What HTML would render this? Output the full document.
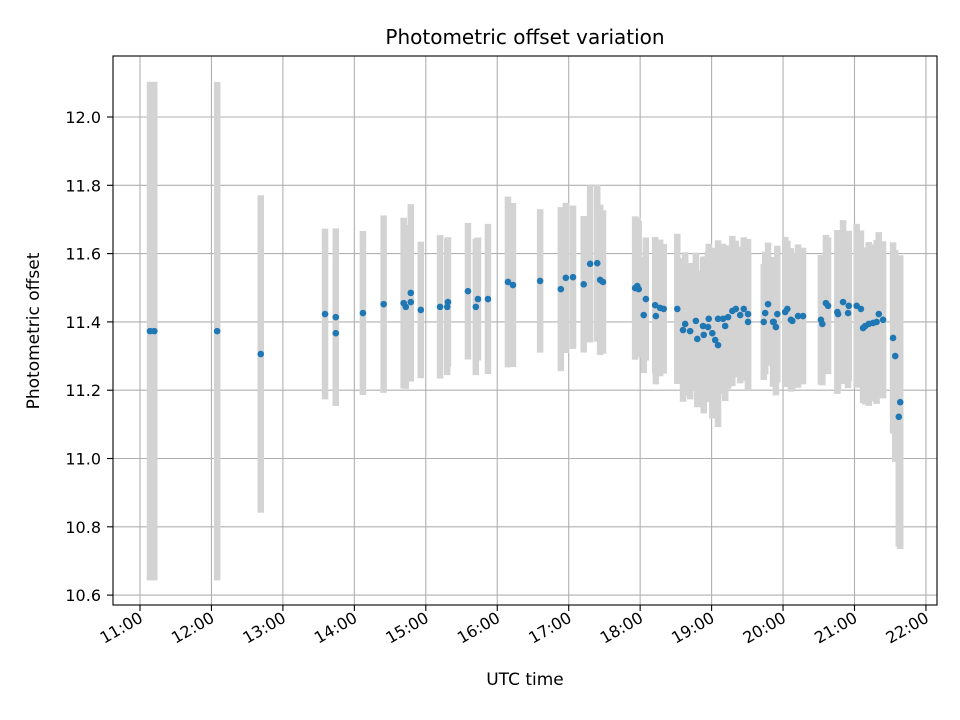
<!DOCTYPE html>
<html><head><meta charset="utf-8"><style>
html,body{margin:0;padding:0;background:#fff;}
svg{display:block;font-family:"DejaVu Sans","Liberation Sans",sans-serif;}
</style></head><body>
<svg id="chart" width="960" height="720" viewBox="0 0 960 720" xmlns="http://www.w3.org/2000/svg">
<rect x="0" y="0" width="960" height="720" fill="#fff"/>
<g id="grid"></g>
<g id="errs"></g>
<g id="pts"></g>
<rect x="113" y="56" width="824" height="549" fill="none" stroke="#000" stroke-width="1.1"/>
<g id="axes"></g>
<text x="525" y="44" text-anchor="middle" font-size="20">Photometric offset variation</text>
<text x="525" y="685" text-anchor="middle" font-size="17">UTC time</text>
<text x="39" y="331" text-anchor="middle" font-size="17" transform="rotate(-90 39 331)">Photometric offset</text>
</svg>
<script>
const times=[11.14,11.20,12.08,12.69,13.59,13.74,13.74,14.12,14.41,14.69,14.72,14.79,14.79,14.93,15.20,15.30,15.31,15.59,15.70,15.73,15.87,16.15,16.22,16.60,16.89,16.96,17.06,17.21,17.30,17.40,17.44,17.48,
17.93,17.96,17.98,18.05,18.08,18.21,18.22,18.28,18.33,18.52,18.60,18.63,18.70,18.78,18.80,18.88,18.89,18.95,18.96,19.01,19.05,19.09,19.09,19.16,19.19,19.23,19.29,19.34,19.40,19.45,19.51,19.51,19.73,19.75,19.79,19.86,19.87,19.90,19.92,
20.03,20.06,20.11,20.13,20.21,20.28,20.53,20.55,20.60,20.63,20.76,20.77,20.84,20.91,20.92,21.03,21.09,21.12,21.15,21.20,21.26,21.31,21.34,21.40,21.54,21.57,21.62,21.64];
const values=[11.373,11.373,11.373,11.306,11.423,11.414,11.367,11.426,11.452,11.455,11.444,11.485,11.458,11.435,11.444,11.444,11.458,11.490,11.444,11.467,11.467,11.517,11.508,11.520,11.496,11.529,11.531,11.510,11.570,11.572,11.523,11.517,
11.499,11.505,11.496,11.420,11.467,11.449,11.417,11.441,11.438,11.438,11.376,11.394,11.373,11.403,11.350,11.388,11.362,11.385,11.409,11.367,11.347,11.332,11.409,11.409,11.388,11.414,11.432,11.438,11.420,11.438,11.423,11.400,11.400,11.426,11.452,11.400,11.400,11.385,11.423,
11.429,11.438,11.406,11.403,11.417,11.417,11.406,11.394,11.455,11.447,11.429,11.423,11.458,11.426,11.447,11.447,11.438,11.382,11.388,11.394,11.397,11.400,11.423,11.406,11.353,11.300,11.122,11.165];
const errors=[0.73,0.73,0.73,0.465,0.25,0.26,0.2,0.24,0.26,0.25,0.24,0.26,0.2,0.2,0.21,0.2,0.19,0.2,0.2,0.18,0.22,0.25,0.24,0.21,0.24,0.22,0.21,0.2,0.23,0.23,0.22,0.21,
0.21,0.2,0.2,0.17,0.18,0.2,0.2,0.2,0.19,0.22,0.21,0.21,0.2,0.2,0.2,0.2,0.23,0.22,0.22,0.25,0.23,0.24,0.23,0.22,0.22,0.21,0.22,0.2,0.2,0.21,0.22,0.2,0.17,0.18,0.18,0.19,0.19,0.2,0.2,
0.22,0.2,0.21,0.2,0.21,0.2,0.19,0.18,0.2,0.2,0.24,0.22,0.24,0.22,0.22,0.24,0.23,0.22,0.23,0.24,0.23,0.24,0.24,0.23,0.28,0.31,0.38,0.43];
const xTicks=[11,12,13,14,15,16,17,18,19,20,21,22];
const xTickLabels=["11:00","12:00","13:00","14:00","15:00","16:00","17:00","18:00","19:00","20:00","21:00","22:00"];
const yTicks=[10.6,10.8,11.0,11.2,11.4,11.6,11.8,12.0];
const yTickLabels=["10.6","10.8","11.0","11.2","11.4","11.6","11.8","12.0"];

const NS="http://www.w3.org/2000/svg";
const X=h=>140+(h-11)*71.45;
const Y=v=>117+(12-v)*341.5;
function mk(tag,attrs,parent){const e=document.createElementNS(NS,tag);for(const k in attrs)e.setAttribute(k,attrs[k]);parent.appendChild(e);return e;}
const grid=document.getElementById('grid'),axes=document.getElementById('axes'),errs=document.getElementById('errs'),pts=document.getElementById('pts');
xTicks.forEach((t,i)=>{const x=X(t);
 const g=mk('line',{x1:x,x2:x,y1:56,y2:605,stroke:'#b0b0b0','stroke-width':1.1},grid);
 
 const tk=mk('line',{x1:x,x2:x,y1:605,y2:611,stroke:'#000','stroke-width':1.1},axes);
 
 const tx=mk('text',{x:x+4,y:621,'text-anchor':'end','font-size':16,transform:`rotate(-30 ${x+4} 621)`},axes);
 tx.textContent=xTickLabels[i];
 });
yTicks.forEach((t,i)=>{const y=Y(t);
 const g=mk('line',{x1:113,x2:937,y1:y,y2:y,stroke:'#b0b0b0','stroke-width':1.1},grid);
 
 const tk=mk('line',{x1:107,x2:113,y1:y,y2:y,stroke:'#000','stroke-width':1.1},axes);
 
 const tx=mk('text',{x:101,y:y+6,'text-anchor':'end','font-size':16},axes);
 tx.textContent=yTickLabels[i];
 });
times.forEach((t,i)=>{const x=X(t);
 const e=mk('line',{x1:x,x2:x,y1:Y(values[i]+errors[i]),y2:Y(values[i]-errors[i]),stroke:'#d3d3d3','stroke-width':6.5},errs);
 });
times.forEach((t,i)=>{
 const c=mk('circle',{cx:X(t),cy:Y(values[i]),r:3.3,fill:'#1f77b4'},pts);
 });
</script>
</body></html>
